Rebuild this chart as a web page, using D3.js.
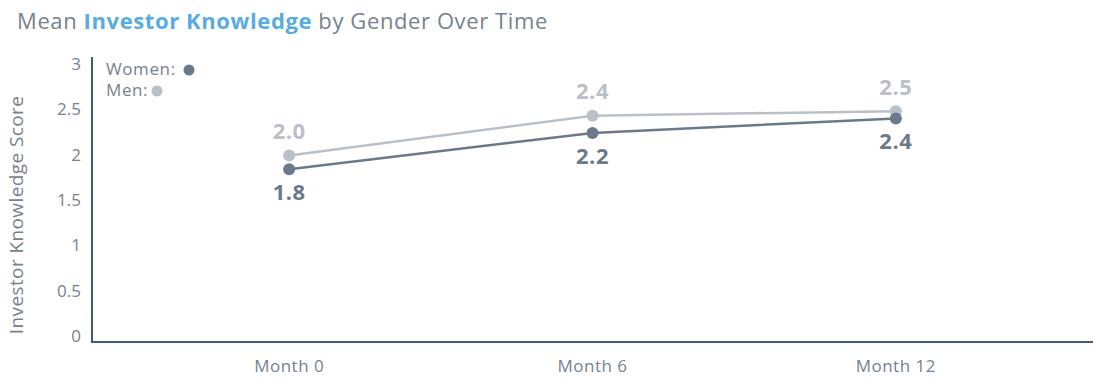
<!DOCTYPE html>
<html>
<head>
<meta charset="utf-8">
<script src="https://cdn.jsdelivr.net/npm/d3@7"></script>
<style>
  body { margin: 0; background: #fff; }
  svg { font-family: 'Open Sans', 'Noto Sans', sans-serif; }
</style>
</head>
<body>
<svg id="chart" width="1100" height="384"></svg>
<script>
let months = ['Month 0', 'Month 6', 'Month 12'];
let womenScores = [1.84, 2.24, 2.40];
let menScores = [1.99, 2.43, 2.48];
let yTicks = [0, 0.5, 1, 1.5, 2, 2.5, 3];

let womenColor = '#6b7a8b';
let menColor = '#b9c0c8';
let axisColor = '#3f5a7c';
let textColor = '#76828e';

let svg = d3.select('#chart');

let x = d3.scalePoint().domain(months).range([92, 1093]).padding(0.65);
let y = d3.scaleLinear().domain([0, 3]).range([336, 64]);

// title
let title = svg.append('text')
	.attr('x', 17)
	.attr('y', 29)
	.style('font-size', '22px')
	.style('letter-spacing', '0.6px')
	.attr('fill', textColor);
title.append('tspan').text('Mean ');
title.append('tspan').text('Investor Knowledge').attr('fill', '#58ace0').style('font-weight', 'bold');
title.append('tspan').text(' by Gender Over Time');

// y axis title
svg.append('text')
	.attr('transform', 'translate(23, 215) rotate(-90)')
	.attr('text-anchor', 'middle')
	.style('font-size', '19px')
	.style('letter-spacing', '0.4px')
	.attr('fill', textColor)
	.text('Investor Knowledge Score');

// y tick labels
svg.selectAll('.ytick')
	.data(yTicks)
	.enter()
	.append('text')
	.attr('class', 'ytick')
	.attr('x', 81)
	.attr('y', (d) => y(d))
	.attr('dy', '0.35em')
	.attr('text-anchor', 'end')
	.style('font-size', '17px')
	.attr('fill', textColor)
	.text((d) => d);

// x tick labels
svg.selectAll('.xtick')
	.data(months)
	.enter()
	.append('text')
	.attr('class', 'xtick')
	.attr('x', (d) => x(d))
	.attr('y', 366)
	.attr('dy', '0.35em')
	.attr('text-anchor', 'middle')
	.style('font-size', '17px')
	.style('letter-spacing', '0.5px')
	.attr('fill', textColor)
	.text((d) => d);

// axes lines
svg.append('line')
	.attr('x1', 92).attr('x2', 92)
	.attr('y1', 57).attr('y2', 343)
	.attr('stroke', axisColor).attr('stroke-width', 2);
svg.append('line')
	.attr('x1', 91).attr('x2', 1093)
	.attr('y1', 342).attr('y2', 342)
	.attr('stroke', axisColor).attr('stroke-width', 2);

let line = d3.line()
	.x((d, i) => x(months[i]))
	.y((d) => y(d));

let fmt = d3.format('.1f');

let series = [
	{ name: 'Men', values: menScores, color: menColor, dy: -24 },
	{ name: 'Women', values: womenScores, color: womenColor, dy: 23 }
];

series.forEach((s) => {
	svg.append('path')
		.datum(s.values)
		.attr('d', line)
		.attr('fill', 'none')
		.attr('stroke', s.color)
		.attr('stroke-width', 2.5);

	svg.selectAll('.dot-' + s.name)
		.data(s.values)
		.enter()
		.append('circle')
		.attr('cx', (d, i) => x(months[i]))
		.attr('cy', (d) => y(d))
		.attr('r', 6)
		.attr('fill', s.color);

	svg.selectAll('.lbl-' + s.name)
		.data(s.values)
		.enter()
		.append('text')
		.attr('x', (d, i) => x(months[i]))
		.attr('y', (d) => y(d) + s.dy)
		.attr('dy', '0.35em')
		.attr('text-anchor', 'middle')
		.style('font-size', '22px')
		.style('font-weight', 'bold')
		.style('letter-spacing', '0.5px')
		.attr('fill', s.color)
		.text((d) => fmt(d));
});

// legend
let legend = [
	{ name: 'Women:', color: womenColor, y: 69, dotX: 189 },
	{ name: 'Men:', color: menColor, y: 90, dotX: 157 }
];
legend.forEach((l) => {
	svg.append('text')
		.attr('x', 106)
		.attr('y', l.y)
		.attr('dy', '0.35em')
		.style('font-size', '17px')
		.style('letter-spacing', '0.6px')
		.attr('fill', textColor)
		.text(l.name);
	svg.append('circle')
		.attr('cx', l.dotX)
		.attr('cy', l.y + 1)
		.attr('r', 5.5)
		.attr('fill', l.color);
});
</script>
</body>
</html>
